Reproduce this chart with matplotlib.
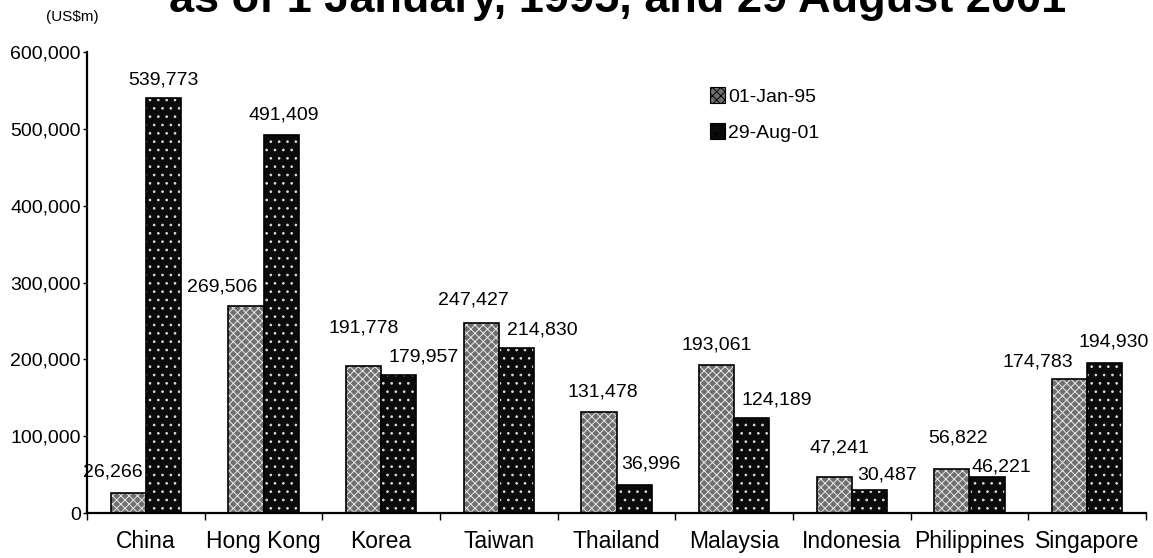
import matplotlib
matplotlib.use("Agg")
import matplotlib.pyplot as plt
import numpy as np
from matplotlib.patches import Patch

# ---- data ----
categories = ["China", "Hong Kong", "Korea", "Taiwan", "Thailand",
              "Malaysia", "Indonesia", "Philippines", "Singapore"]
jan95 = [26266, 269506, 191778, 247427, 131478, 193061, 47241, 56822, 174783]
aug01 = [539773, 491409, 179957, 214830, 36996, 124189, 30487, 46221, 194930]
series_names = ["01-Jan-95", "29-Aug-01"]
y_ticks = [0, 100000, 200000, 300000, 400000, 500000, 600000]
title_text = "as of 1 January, 1995, and 29 August 2001"
unit_text = "(US$m)"

# ---- label placement (pixels, styling only) ----
jan_dx = [-15, -24, 0, -8, 4, 0, 5, 6, -32]
jan_dy = [21, 19, 38, 23, 20, 20, 29, 31, 17]
aug_dx = [0, 3, 25, 26, 17, 25, 18, 14, 9]
aug_dy = [18, 20, 18, 18, 21, 18, 15, 10, 21]

plt.rcParams['font.family'] = ['Liberation Sans', 'DejaVu Sans']
plt.rcParams['hatch.linewidth'] = 0.7

W, H = 1153, 558
fig = plt.figure(figsize=(W / 100, H / 100), dpi=100)
ax = fig.add_axes([87 / W, 45 / H, (1146 - 87) / W, (513 - 52) / H])

x = np.arange(len(categories))
bw = 0.30

gray_face = "#6f6f6f"
black_face = "#0b0b0b"

# textured fills
ax.bar(x - bw / 2, jan95, bw, color=gray_face, edgecolor="#e8e8e8",
       hatch="xxxx", linewidth=0, zorder=2)
ax.bar(x + bw / 2, aug01, bw, color=black_face, edgecolor="#dcdcdc",
       hatch="..", linewidth=0, zorder=2)
# outlines
ax.bar(x - bw / 2, jan95, bw, fill=False, edgecolor="black", linewidth=1.2, zorder=3)
ax.bar(x + bw / 2, aug01, bw, fill=False, edgecolor="black", linewidth=1.2, zorder=3)

lab_fs = 14
for i in range(len(categories)):
    ax.annotate(f"{jan95[i]:,}", (x[i] - bw / 2, jan95[i]),
                xytext=(jan_dx[i], jan_dy[i]), textcoords="offset pixels",
                ha="center", va="center", fontsize=lab_fs, zorder=4,
                annotation_clip=False)
    ax.annotate(f"{aug01[i]:,}", (x[i] + bw / 2, aug01[i]),
                xytext=(aug_dx[i], aug_dy[i]), textcoords="offset pixels",
                ha="center", va="center", fontsize=lab_fs, zorder=4,
                annotation_clip=False)

ax.set_xlim(-0.44, 8.5)
ax.set_ylim(0, 600000)
ax.set_yticks(y_ticks)
ax.set_yticklabels([f"{v:,}" for v in y_ticks], fontsize=14)

# category labels at centres, tick marks between categories
ax.set_xticks(np.arange(len(categories) + 1) - 0.5, minor=False)
ax.set_xticklabels([])
ax.set_xticks(x, minor=True)
ax.set_xticklabels(categories, minor=True, fontsize=16.5)
ax.tick_params(axis="x", which="minor", length=0, pad=12)
ax.tick_params(axis="x", which="major", length=5, width=1, direction="out")
ax.tick_params(axis="y", length=3, width=1, direction="out", pad=1.5)

for s in ["top", "right"]:
    ax.spines[s].set_visible(False)
ax.spines["left"].set_linewidth(1.6)
ax.spines["bottom"].set_linewidth(1.6)

# legend
handles = [Patch(facecolor=gray_face, edgecolor="black", hatch="xxxx", linewidth=0.8),
           Patch(facecolor=black_face, edgecolor="black", hatch="..", linewidth=0.8)]
leg = ax.legend(handles, series_names, loc="upper left",
                bbox_to_anchor=((710 - 87) / (1146 - 87), 1 - (87 - 52) / (513 - 52)),
                frameon=False, fontsize=14, handlelength=0.75, handleheight=0.9,
                handletextpad=0.2, labelspacing=0.9, borderaxespad=0, borderpad=0)

fig.text((167 + 1068) / 2 / W, 1 - 12 / H, title_text, ha="center", va="baseline",
         fontsize=32.5, fontweight="bold")
fig.text(72 / W, 1 - 17 / H, unit_text, ha="center", va="center", fontsize=11)

fig.savefig("out.png", dpi=100, facecolor="white")
